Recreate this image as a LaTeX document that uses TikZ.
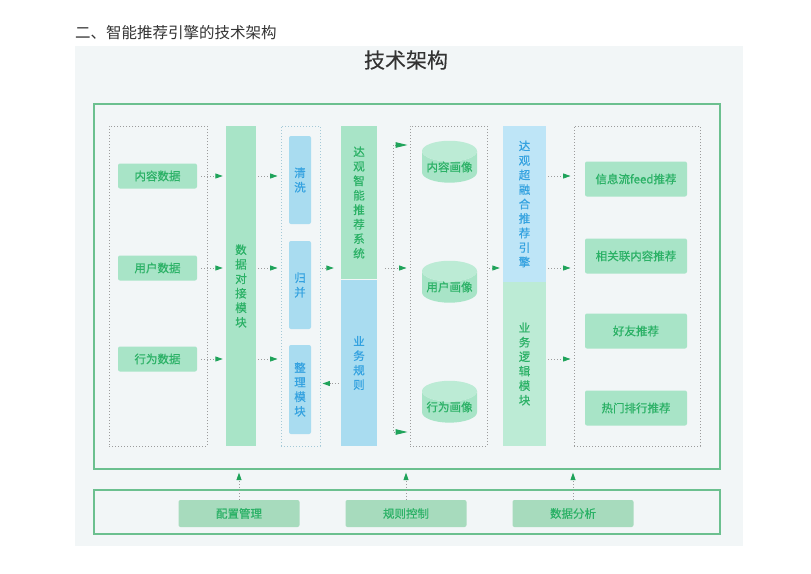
\documentclass[tikz,border=0pt]{standalone}
\usepackage{fontspec}
\setmainfont{Noto Sans CJK SC}
\newfontfamily\boxfont{Noto Sans CJK SC}[FakeBold=0.6]
\newfontfamily\titlefont{Noto Sans CJK SC}[FakeBold=0.15]
\usetikzlibrary{arrows.meta,shapes.geometric}

\definecolor{panelgray}{HTML}{F2F6F7}
\definecolor{framegreen}{HTML}{6CC08F}
\definecolor{mint}{HTML}{A8E4C7}
\definecolor{mintlight}{HTML}{BCEBD5}
\definecolor{mintdark}{HTML}{A7DBBD}
\definecolor{skyblue}{HTML}{A9DCF0}
\definecolor{skylight}{HTML}{BEE5F7}
\definecolor{greentext}{HTML}{2BB166}
\definecolor{bluetext}{HTML}{34A2E0}
\definecolor{arrowgreen}{HTML}{1FA35A}
\definecolor{dotgray}{HTML}{9C9C9C}
\definecolor{darktext}{HTML}{333333}

\begin{document}
\begin{tikzpicture}[x=1pt, y=-1pt,
  frame/.style={draw=framegreen, line width=1.2pt, inner sep=0pt},
  dotbox/.style={draw=dotgray, line width=0.9pt, dash pattern=on 0.9pt off 2.1pt, inner sep=0pt},
  greenbox/.style={fill=mint, rounded corners=2pt, text=greentext, inner sep=0pt, font=\boxfont\fontsize{11.5}{14}\selectfont},
  bluebox/.style={fill=skyblue, rounded corners=2pt, text=bluetext, inner sep=0pt, align=center, font=\boxfont\fontsize{11.5}{14.5}\selectfont},
  greenbar/.style={fill=mint, text=greentext, inner sep=0pt, align=center, font=\boxfont\fontsize{11.5}{14.5}\selectfont},
  bluebar/.style={fill=skyblue, text=bluetext, inner sep=0pt, align=center, font=\boxfont\fontsize{11.5}{14.5}\selectfont},
  store/.style={cylinder, shape border rotate=90, aspect=0.45, cylinder uses custom fill, cylinder body fill=mint, cylinder end fill=mintlight, minimum width=55pt, minimum height=26pt, inner sep=0pt, text=greentext, font=\boxfont\fontsize{11.5}{14}\selectfont},
  flow/.style={draw=dotgray, line width=0.9pt, dash pattern=on 0.9pt off 2.1pt, -{Triangle[length=7.5pt, width=5pt, color=arrowgreen]}, shorten <=2pt, shorten >=3pt},
  bigflow/.style={draw=dotgray, line width=0.9pt, dash pattern=on 0.9pt off 2.1pt, {Triangle[length=12pt, width=5.5pt, color=arrowgreen]}-{Triangle[length=12pt, width=5.5pt, color=arrowgreen]}, shorten <=2pt, shorten >=2pt}]
\useasboundingbox (0, 0) rectangle (811, 573);
\node [fill=panelgray, minimum width=668pt, minimum height=500pt, inner sep=0pt] (bg) at (409, 296) {};
\node [anchor=west, inner sep=0pt, text=darktext, font=\fontsize{15.5}{18}\selectfont] (head) at (75, 33) {二、智能推荐引擎的技术架构};
\node [inner sep=0pt, text=darktext, font=\titlefont\fontsize{21}{24}\selectfont] (title) at (406, 60) {技术架构};

\node [frame, minimum width=626pt, minimum height=365pt] (outer) at (407, 286.5) {};
\node [frame, minimum width=626pt, minimum height=44pt] (base) at (407, 512) {};

\node [dotbox, minimum width=98pt, minimum height=320pt] (col1) at (158, 286) {};
\node [greenbox, minimum width=79pt, minimum height=25pt] (d1) at (157.5, 176) {内容数据};
\node [greenbox, minimum width=79pt, minimum height=25pt] (d2) at (157.5, 268) {用户数据};
\node [greenbox, minimum width=79pt, minimum height=25pt] (d3) at (157.5, 359) {行为数据};

\node [greenbar, minimum width=30pt, minimum height=320pt] (dock) at (241, 286) {数\\据\\对\\接\\模\\块};

\node [dotbox, draw=skyblue!70!dotgray, minimum width=39pt, minimum height=320pt] (col3) at (300.5, 286) {};
\node [bluebox, minimum width=22pt, minimum height=88pt] (clean) at (300, 180) {清\\洗};
\node [bluebox, minimum width=22pt, minimum height=88pt] (merge) at (300, 285) {归\\并};
\node [bluebox, minimum width=22pt, minimum height=89pt] (tidy) at (300, 389.5) {整\\理\\模\\块};

\node [greenbar, minimum width=36pt, minimum height=153pt] (sys) at (359, 202.5) {达\\观\\智\\能\\推\\荐\\系\\统};
\node [bluebar, minimum width=36pt, minimum height=166pt] (rule) at (359, 363) {业\\务\\规\\则};

\node [dotbox, minimum width=77pt, minimum height=320pt] (col5) at (448.5, 286) {};
\node [store] (p1) at (449.5, 167) {内容画像};
\node [store] (p2) at (449.5, 287) {用户画像};
\node [store] (p3) at (449.5, 407) {行为画像};

\node [bluebar, fill=skylight, minimum width=43pt, minimum height=156pt] (engine) at (524.5, 204) {达\\观\\超\\融\\合\\推\\荐\\引\\擎};
\node [greenbar, fill=mintlight, minimum width=43pt, minimum height=164pt] (logic) at (524.5, 364) {业\\务\\逻\\辑\\模\\块};

\node [dotbox, minimum width=126pt, minimum height=320pt] (col7) at (637, 286) {};
\node [greenbox, minimum width=102pt, minimum height=35pt] (r1) at (636, 179) {信息流feed推荐};
\node [greenbox, minimum width=102pt, minimum height=35pt] (r2) at (636, 256) {相关联内容推荐};
\node [greenbox, minimum width=102pt, minimum height=35pt] (r3) at (636, 331) {好友推荐};
\node [greenbox, minimum width=102pt, minimum height=35pt] (r4) at (636, 408) {热门排行推荐};

\node [greenbox, fill=mintdark, minimum width=121pt, minimum height=27pt] (cfg) at (239, 513.5) {配置管理};
\node [greenbox, fill=mintdark, minimum width=121pt, minimum height=27pt] (ctl) at (406, 513.5) {规则控制};
\node [greenbox, fill=mintdark, minimum width=121pt, minimum height=27pt] (ana) at (573, 513.5) {数据分析};

\draw [flow, shorten <=4pt] (d1.east) -- (dock.west |- d1);
\draw [flow, shorten <=4pt] (d2.east) -- (dock.west |- d2);
\draw [flow, shorten <=4pt] (d3.east) -- (dock.west |- d3);
\draw [flow] (dock.east |- d1) -- (col3.west |- d1);
\draw [flow] (dock.east |- d2) -- (col3.west |- d2);
\draw [flow] (dock.east |- d3) -- (col3.west |- d3);
\draw [flow, shorten >=7pt] (col3.east |- d2) -- (sys.west |- d2);
\draw [flow, shorten <=2pt, shorten >=2pt] ([yshift=6pt]rule.west |- tidy) -- ([yshift=6pt]col3.east |- tidy);

\coordinate (busT) at (393, 145);
\coordinate (busB) at (393, 432);
\draw [bigflow] (col5.west |- busT) -- (busT) -- (busB) -- (col5.west |- busB);
\draw [flow, shorten <=8pt] (sys.east |- d2) -- (col5.west |- d2);
\draw [flow] (col5.east |- d2) -- (engine.west |- d2);
\draw [flow] (engine.east |- d1) -- (col7.west |- d1);
\draw [flow] (engine.east |- d2) -- (col7.west |- d2);
\draw [flow] (engine.east |- d3) -- (col7.west |- d3);

\draw [flow, shorten <=0pt] (cfg.north) -- (cfg |- outer.south);
\draw [flow, shorten <=0pt] (ctl.north) -- (ctl |- outer.south);
\draw [flow, shorten <=0pt] (ana.north) -- (ana |- outer.south);
\end{tikzpicture}
\end{document}
